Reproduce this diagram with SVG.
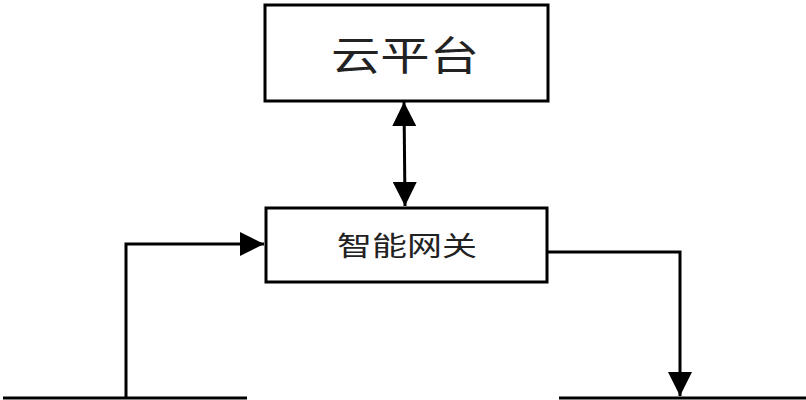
<svg xmlns="http://www.w3.org/2000/svg" width="806" height="400" viewBox="0 0 806 400">
<style>
.box{fill:#fff;stroke:#000;stroke-width:3}
.ln{fill:none;stroke:#000;stroke-width:3}
text{font-family:"Liberation Sans","Noto Sans CJK SC",sans-serif;fill:#222;text-anchor:middle}
</style>
<defs>
<marker id="b" viewBox="0 0 10 10" refX="10" refY="5" markerWidth="24" markerHeight="24" markerUnits="userSpaceOnUse" orient="auto-start-reverse"><path d="M0,0L10,5L0,10z"/></marker>
</defs>
<rect width="806" height="400" fill="#fff"/>
<g id="cloud"><rect class="box" x="265" y="5" width="283" height="96"/><text x="405" y="70" font-size="40" textLength="148" lengthAdjust="spacingAndGlyphs">云平台</text></g>
<g id="gateway"><rect class="box" x="266" y="208" width="281" height="74"/><text x="407" y="256" font-size="27" textLength="140" lengthAdjust="spacingAndGlyphs">智能网关</text></g>
<g id="lines"><line class="ln" x1="3" y1="398" x2="247" y2="398"/><line class="ln" x1="559" y1="398" x2="806" y2="398"/></g>
<g id="connectors">
<line class="ln" x1="404" y1="102" x2="405" y2="206" marker-start="url(#b)" marker-end="url(#b)"/>
<polyline class="ln" points="126,398 126,244 264,244" marker-end="url(#b)"/>
<polyline class="ln" points="547,252 680,252 680,396" marker-end="url(#b)"/>
</g>
</svg>
